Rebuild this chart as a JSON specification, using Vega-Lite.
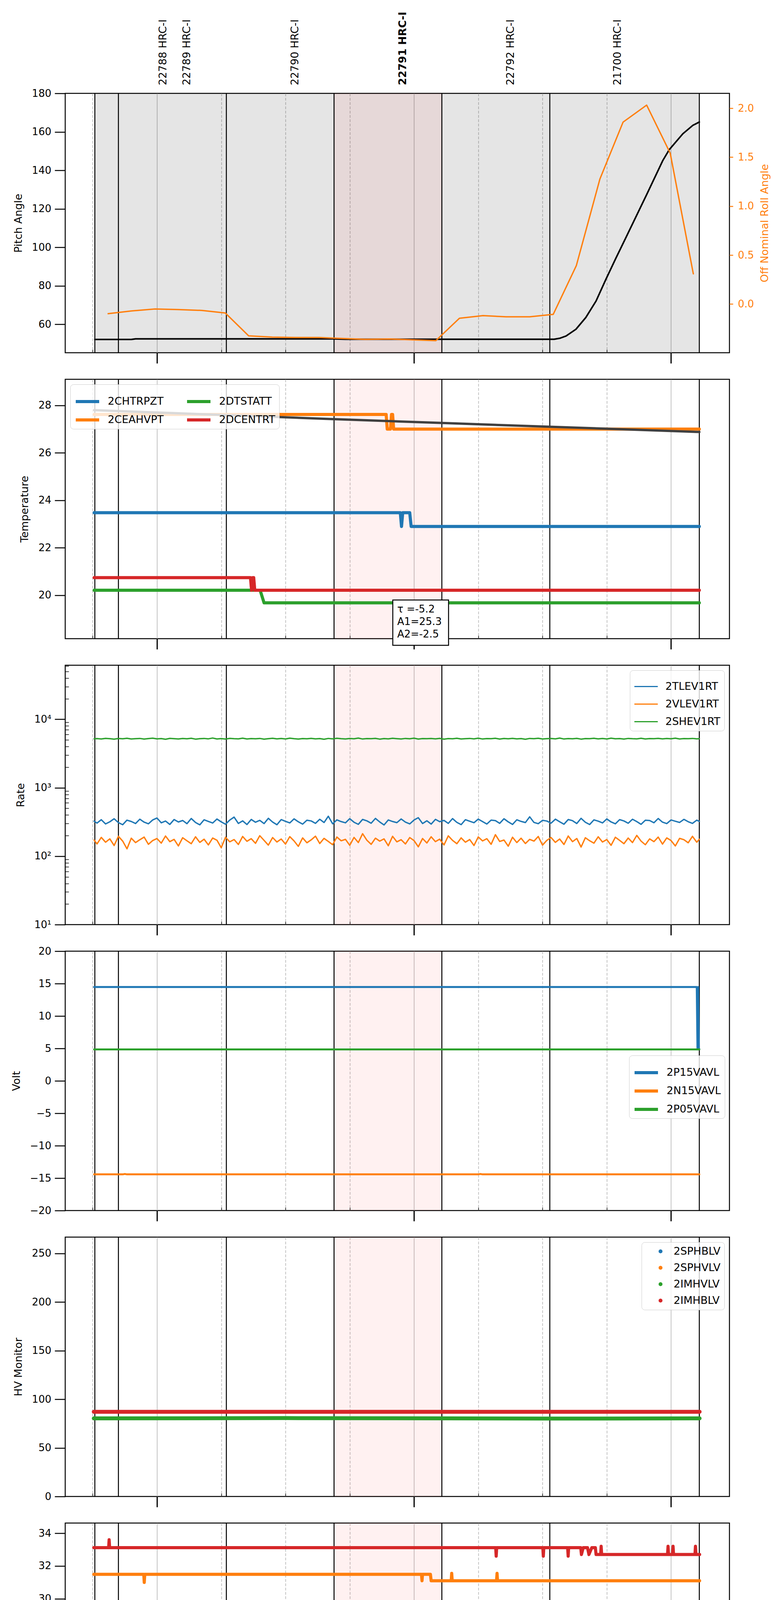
{
  "$schema": "https://vega.github.io/schema/vega-lite/v6.json",
  "background": "white",
  "padding": {"left": 26, "top": 28, "right": 10, "bottom": 10},
  "spacing": 68,
  "bounds": "flush",
  "resolve": {"scale": {"color": "independent"}, "legend": {"color": "independent"}},
  "config": {
    "font": "DejaVu Sans",
    "view": {"stroke": "black", "strokeWidth": 2.5},
    "axis": {"labelColor": "black", "titleColor": "black", "labelFont": "DejaVu Sans", "titleFont": "DejaVu Sans"},
    "axisY": {"tickSize": 27, "tickWidth": 2.5, "tickColor": "black", "labelFontSize": 26, "labelPadding": 9, "titleFontSize": 27, "titleFontWeight": "normal", "titlePadding": 20, "domain": false, "grid": false},
    "legend": {"labelFontSize": 27, "labelColor": "black", "fillColor": "rgba(255,255,255,0.8)", "strokeColor": "#cccccc", "cornerRadius": 8, "padding": 10, "rowPadding": -3, "symbolType": "stroke", "symbolSize": 3600, "symbolStrokeWidth": 8, "labelOffset": 18, "offset": 13, "labelLimit": 400},
    "line": {"strokeCap": "round", "strokeJoin": "round"}
  },
  "datasets": {
    "grey": [{"t": "2020-03-23T05:45:30Z", "t2": "2020-03-23T08:06:36Z"}],
    "pink": [{"t": "2020-03-23T06:41:20Z", "t2": "2020-03-23T07:06:30Z"}],
    "bounds": [
      {"t": "2020-03-23T05:45:30Z"}, {"t": "2020-03-23T05:51:00Z"}, {"t": "2020-03-23T06:16:12Z"},
      {"t": "2020-03-23T06:41:20Z"}, {"t": "2020-03-23T07:06:30Z"}, {"t": "2020-03-23T07:31:42Z"},
      {"t": "2020-03-23T08:06:36Z"}
    ],
    "obs": [
      {"t": "2020-03-23T06:01:30Z", "label": "22788 HRC-I"},
      {"t": "2020-03-23T06:07:00Z", "label": "22789 HRC-I"},
      {"t": "2020-03-23T06:32:18Z", "label": "22790 HRC-I"},
      {"t": "2020-03-23T06:57:24Z", "label": "22791 HRC-I", "cur": true},
      {"t": "2020-03-23T07:22:36Z", "label": "22792 HRC-I"},
      {"t": "2020-03-23T07:47:36Z", "label": "21700 HRC-I"}
    ],
    "fit": [
      {"t": "2020-03-23T06:55:03Z", "t2": "2020-03-23T07:08:04Z", "tx": "2020-03-23T06:56:05Z", "note": ["τ =-5.2", "A1=25.3", "A2=-2.5"]}
    ],
    "pitch": [
      {"t": "2020-03-23T05:45:30Z", "v": 52.1}, {"t": "2020-03-23T05:54:00Z", "v": 52.1},
      {"t": "2020-03-23T05:55:00Z", "v": 52.4}, {"t": "2020-03-23T06:41:00Z", "v": 52.4},
      {"t": "2020-03-23T06:44:00Z", "v": 52.2}, {"t": "2020-03-23T07:32:42Z", "v": 52.2},
      {"t": "2020-03-23T07:34:00Z", "v": 52.7}, {"t": "2020-03-23T07:35:30Z", "v": 53.9},
      {"t": "2020-03-23T07:37:48Z", "v": 57.4}, {"t": "2020-03-23T07:40:06Z", "v": 63.5},
      {"t": "2020-03-23T07:42:30Z", "v": 72.1}, {"t": "2020-03-23T07:44:48Z", "v": 83.4},
      {"t": "2020-03-23T07:47:07Z", "v": 94.3}, {"t": "2020-03-23T07:49:30Z", "v": 105.2},
      {"t": "2020-03-23T07:54:12Z", "v": 126.9}, {"t": "2020-03-23T07:58:06Z", "v": 145.2},
      {"t": "2020-03-23T07:59:36Z", "v": 150.8}, {"t": "2020-03-23T08:02:45Z", "v": 159.0},
      {"t": "2020-03-23T08:05:06Z", "v": 163.4}, {"t": "2020-03-23T08:06:36Z", "v": 165.1}
    ],
    "roll": [
      {"t": "2020-03-23T05:48:36Z", "v": -0.098}, {"t": "2020-03-23T05:54:04Z", "v": -0.070},
      {"t": "2020-03-23T05:59:32Z", "v": -0.050}, {"t": "2020-03-23T06:05:00Z", "v": -0.056},
      {"t": "2020-03-23T06:10:30Z", "v": -0.065}, {"t": "2020-03-23T06:15:57Z", "v": -0.091},
      {"t": "2020-03-23T06:21:24Z", "v": -0.324}, {"t": "2020-03-23T06:26:54Z", "v": -0.337},
      {"t": "2020-03-23T06:32:18Z", "v": -0.341}, {"t": "2020-03-23T06:37:48Z", "v": -0.341},
      {"t": "2020-03-23T06:43:18Z", "v": -0.351}, {"t": "2020-03-23T06:48:42Z", "v": -0.360},
      {"t": "2020-03-23T06:54:12Z", "v": -0.356}, {"t": "2020-03-23T06:59:42Z", "v": -0.365},
      {"t": "2020-03-23T07:05:06Z", "v": -0.373}, {"t": "2020-03-23T07:10:36Z", "v": -0.145},
      {"t": "2020-03-23T07:16:06Z", "v": -0.118}, {"t": "2020-03-23T07:21:30Z", "v": -0.130},
      {"t": "2020-03-23T07:27:00Z", "v": -0.130}, {"t": "2020-03-23T07:32:30Z", "v": -0.105},
      {"t": "2020-03-23T07:37:54Z", "v": 0.394}, {"t": "2020-03-23T07:43:24Z", "v": 1.278},
      {"t": "2020-03-23T07:48:48Z", "v": 1.858}, {"t": "2020-03-23T07:54:18Z", "v": 2.032},
      {"t": "2020-03-23T07:59:48Z", "v": 1.542}, {"t": "2020-03-23T08:05:12Z", "v": 0.309}
    ],
    "model": [
      {"t": "2020-03-23T05:45:20Z", "v": 27.80}, {"t": "2020-03-23T06:15:00Z", "v": 27.60},
      {"t": "2020-03-23T06:41:20Z", "v": 27.42}, {"t": "2020-03-23T07:06:30Z", "v": 27.26},
      {"t": "2020-03-23T07:31:42Z", "v": 27.10}, {"t": "2020-03-23T08:06:36Z", "v": 26.88}
    ],
    "temp": [
      {"t": "2020-03-23T05:45:20Z", "ch": "2CHTRPZT", "v": 23.48}, {"t": "2020-03-23T06:56:48Z", "ch": "2CHTRPZT", "v": 23.48},
      {"t": "2020-03-23T06:57:05Z", "ch": "2CHTRPZT", "v": 22.9}, {"t": "2020-03-23T06:57:22Z", "ch": "2CHTRPZT", "v": 23.48},
      {"t": "2020-03-23T06:59:00Z", "ch": "2CHTRPZT", "v": 23.48}, {"t": "2020-03-23T06:59:20Z", "ch": "2CHTRPZT", "v": 22.9},
      {"t": "2020-03-23T08:06:36Z", "ch": "2CHTRPZT", "v": 22.9},
      {"t": "2020-03-23T05:45:20Z", "ch": "2CEAHVPT", "v": 27.62}, {"t": "2020-03-23T06:53:30Z", "ch": "2CEAHVPT", "v": 27.62},
      {"t": "2020-03-23T06:53:45Z", "ch": "2CEAHVPT", "v": 27.0}, {"t": "2020-03-23T06:54:30Z", "ch": "2CEAHVPT", "v": 27.0},
      {"t": "2020-03-23T06:54:45Z", "ch": "2CEAHVPT", "v": 27.62}, {"t": "2020-03-23T06:55:00Z", "ch": "2CEAHVPT", "v": 27.62},
      {"t": "2020-03-23T06:55:15Z", "ch": "2CEAHVPT", "v": 27.0}, {"t": "2020-03-23T08:06:36Z", "ch": "2CEAHVPT", "v": 27.0},
      {"t": "2020-03-23T05:45:20Z", "ch": "2DTSTATT", "v": 20.21}, {"t": "2020-03-23T06:24:05Z", "ch": "2DTSTATT", "v": 20.21},
      {"t": "2020-03-23T06:25:00Z", "ch": "2DTSTATT", "v": 19.68}, {"t": "2020-03-23T08:06:36Z", "ch": "2DTSTATT", "v": 19.68},
      {"t": "2020-03-23T05:45:20Z", "ch": "2DCENTRT", "v": 20.74}, {"t": "2020-03-23T06:21:50Z", "ch": "2DCENTRT", "v": 20.74},
      {"t": "2020-03-23T06:22:05Z", "ch": "2DCENTRT", "v": 20.21}, {"t": "2020-03-23T06:22:20Z", "ch": "2DCENTRT", "v": 20.74},
      {"t": "2020-03-23T06:22:35Z", "ch": "2DCENTRT", "v": 20.74}, {"t": "2020-03-23T06:22:50Z", "ch": "2DCENTRT", "v": 20.21},
      {"t": "2020-03-23T08:06:36Z", "ch": "2DCENTRT", "v": 20.21}
    ],
    "rate": [
      {"t": "2020-03-23T05:45:20Z", "2TLEV1RT": 325, "2VLEV1RT": 172, "2SHEV1RT": 5180},
      {"t": "2020-03-23T05:46:00Z", "2TLEV1RT": 304, "2VLEV1RT": 151, "2SHEV1RT": 5230},
      {"t": "2020-03-23T05:47:00Z", "2TLEV1RT": 341, "2VLEV1RT": 188, "2SHEV1RT": 5150},
      {"t": "2020-03-23T05:48:00Z", "2TLEV1RT": 296, "2VLEV1RT": 160, "2SHEV1RT": 5260},
      {"t": "2020-03-23T05:49:00Z", "2TLEV1RT": 318, "2VLEV1RT": 179, "2SHEV1RT": 5200},
      {"t": "2020-03-23T05:50:00Z", "2TLEV1RT": 352, "2VLEV1RT": 143, "2SHEV1RT": 5120},
      {"t": "2020-03-23T05:51:00Z", "2TLEV1RT": 309, "2VLEV1RT": 195, "2SHEV1RT": 5240},
      {"t": "2020-03-23T05:52:00Z", "2TLEV1RT": 288, "2VLEV1RT": 166, "2SHEV1RT": 5190},
      {"t": "2020-03-23T05:53:00Z", "2TLEV1RT": 336, "2VLEV1RT": 128, "2SHEV1RT": 5280},
      {"t": "2020-03-23T05:54:00Z", "2TLEV1RT": 321, "2VLEV1RT": 183, "2SHEV1RT": 5160},
      {"t": "2020-03-23T05:55:00Z", "2TLEV1RT": 300, "2VLEV1RT": 158, "2SHEV1RT": 5210},
      {"t": "2020-03-23T05:56:00Z", "2TLEV1RT": 347, "2VLEV1RT": 174, "2SHEV1RT": 5250},
      {"t": "2020-03-23T05:57:00Z", "2TLEV1RT": 314, "2VLEV1RT": 190, "2SHEV1RT": 5140},
      {"t": "2020-03-23T05:58:00Z", "2TLEV1RT": 297, "2VLEV1RT": 149, "2SHEV1RT": 5220},
      {"t": "2020-03-23T05:59:00Z", "2TLEV1RT": 338, "2VLEV1RT": 169, "2SHEV1RT": 5300},
      {"t": "2020-03-23T06:00:00Z", "2TLEV1RT": 361, "2VLEV1RT": 181, "2SHEV1RT": 5170},
      {"t": "2020-03-23T06:01:00Z", "2TLEV1RT": 307, "2VLEV1RT": 155, "2SHEV1RT": 5230},
      {"t": "2020-03-23T06:02:00Z", "2TLEV1RT": 326, "2VLEV1RT": 197, "2SHEV1RT": 5110},
      {"t": "2020-03-23T06:03:00Z", "2TLEV1RT": 291, "2VLEV1RT": 163, "2SHEV1RT": 5260},
      {"t": "2020-03-23T06:04:00Z", "2TLEV1RT": 343, "2VLEV1RT": 176, "2SHEV1RT": 5200},
      {"t": "2020-03-23T06:05:00Z", "2TLEV1RT": 316, "2VLEV1RT": 141, "2SHEV1RT": 5150},
      {"t": "2020-03-23T06:06:00Z", "2TLEV1RT": 332, "2VLEV1RT": 186, "2SHEV1RT": 5240},
      {"t": "2020-03-23T06:07:00Z", "2TLEV1RT": 298, "2VLEV1RT": 168, "2SHEV1RT": 5190},
      {"t": "2020-03-23T06:08:00Z", "2TLEV1RT": 355, "2VLEV1RT": 152, "2SHEV1RT": 5270},
      {"t": "2020-03-23T06:09:00Z", "2TLEV1RT": 311, "2VLEV1RT": 192, "2SHEV1RT": 5130},
      {"t": "2020-03-23T06:10:00Z", "2TLEV1RT": 287, "2VLEV1RT": 159, "2SHEV1RT": 5210},
      {"t": "2020-03-23T06:11:00Z", "2TLEV1RT": 340, "2VLEV1RT": 177, "2SHEV1RT": 5250},
      {"t": "2020-03-23T06:12:00Z", "2TLEV1RT": 322, "2VLEV1RT": 146, "2SHEV1RT": 5180},
      {"t": "2020-03-23T06:13:00Z", "2TLEV1RT": 305, "2VLEV1RT": 184, "2SHEV1RT": 5320},
      {"t": "2020-03-23T06:14:00Z", "2TLEV1RT": 349, "2VLEV1RT": 171, "2SHEV1RT": 5160},
      {"t": "2020-03-23T06:15:00Z", "2TLEV1RT": 317, "2VLEV1RT": 133, "2SHEV1RT": 5220},
      {"t": "2020-03-23T06:16:00Z", "2TLEV1RT": 293, "2VLEV1RT": 189, "2SHEV1RT": 5140},
      {"t": "2020-03-23T06:17:00Z", "2TLEV1RT": 337, "2VLEV1RT": 162, "2SHEV1RT": 5260},
      {"t": "2020-03-23T06:18:00Z", "2TLEV1RT": 372, "2VLEV1RT": 175, "2SHEV1RT": 5200},
      {"t": "2020-03-23T06:19:00Z", "2TLEV1RT": 301, "2VLEV1RT": 148, "2SHEV1RT": 5170},
      {"t": "2020-03-23T06:20:00Z", "2TLEV1RT": 328, "2VLEV1RT": 194, "2SHEV1RT": 5290},
      {"t": "2020-03-23T06:21:00Z", "2TLEV1RT": 290, "2VLEV1RT": 165, "2SHEV1RT": 5150},
      {"t": "2020-03-23T06:22:00Z", "2TLEV1RT": 344, "2VLEV1RT": 180, "2SHEV1RT": 5230},
      {"t": "2020-03-23T06:23:00Z", "2TLEV1RT": 313, "2VLEV1RT": 154, "2SHEV1RT": 5190},
      {"t": "2020-03-23T06:24:00Z", "2TLEV1RT": 334, "2VLEV1RT": 199, "2SHEV1RT": 5250},
      {"t": "2020-03-23T06:25:00Z", "2TLEV1RT": 299, "2VLEV1RT": 170, "2SHEV1RT": 5120},
      {"t": "2020-03-23T06:26:00Z", "2TLEV1RT": 357, "2VLEV1RT": 145, "2SHEV1RT": 5210},
      {"t": "2020-03-23T06:27:00Z", "2TLEV1RT": 315, "2VLEV1RT": 187, "2SHEV1RT": 5270},
      {"t": "2020-03-23T06:28:00Z", "2TLEV1RT": 288, "2VLEV1RT": 161, "2SHEV1RT": 5180},
      {"t": "2020-03-23T06:29:00Z", "2TLEV1RT": 342, "2VLEV1RT": 178, "2SHEV1RT": 5240},
      {"t": "2020-03-23T06:30:00Z", "2TLEV1RT": 323, "2VLEV1RT": 150, "2SHEV1RT": 5160},
      {"t": "2020-03-23T06:31:00Z", "2TLEV1RT": 306, "2VLEV1RT": 193, "2SHEV1RT": 5300},
      {"t": "2020-03-23T06:32:00Z", "2TLEV1RT": 351, "2VLEV1RT": 167, "2SHEV1RT": 5200},
      {"t": "2020-03-23T06:33:00Z", "2TLEV1RT": 318, "2VLEV1RT": 139, "2SHEV1RT": 5140},
      {"t": "2020-03-23T06:34:00Z", "2TLEV1RT": 294, "2VLEV1RT": 185, "2SHEV1RT": 5230},
      {"t": "2020-03-23T06:35:00Z", "2TLEV1RT": 335, "2VLEV1RT": 157, "2SHEV1RT": 5190},
      {"t": "2020-03-23T06:36:00Z", "2TLEV1RT": 327, "2VLEV1RT": 173, "2SHEV1RT": 5260},
      {"t": "2020-03-23T06:37:00Z", "2TLEV1RT": 302, "2VLEV1RT": 196, "2SHEV1RT": 5170},
      {"t": "2020-03-23T06:38:00Z", "2TLEV1RT": 346, "2VLEV1RT": 153, "2SHEV1RT": 5220},
      {"t": "2020-03-23T06:39:00Z", "2TLEV1RT": 310, "2VLEV1RT": 182, "2SHEV1RT": 5100},
      {"t": "2020-03-23T06:40:00Z", "2TLEV1RT": 383, "2VLEV1RT": 164, "2SHEV1RT": 5250},
      {"t": "2020-03-23T06:41:00Z", "2TLEV1RT": 297, "2VLEV1RT": 147, "2SHEV1RT": 5180},
      {"t": "2020-03-23T06:42:00Z", "2TLEV1RT": 339, "2VLEV1RT": 190, "2SHEV1RT": 5280},
      {"t": "2020-03-23T06:43:00Z", "2TLEV1RT": 320, "2VLEV1RT": 168, "2SHEV1RT": 5210},
      {"t": "2020-03-23T06:44:00Z", "2TLEV1RT": 307, "2VLEV1RT": 176, "2SHEV1RT": 5160},
      {"t": "2020-03-23T06:45:00Z", "2TLEV1RT": 353, "2VLEV1RT": 144, "2SHEV1RT": 5240},
      {"t": "2020-03-23T06:46:00Z", "2TLEV1RT": 313, "2VLEV1RT": 188, "2SHEV1RT": 5190},
      {"t": "2020-03-23T06:47:00Z", "2TLEV1RT": 292, "2VLEV1RT": 158, "2SHEV1RT": 5310},
      {"t": "2020-03-23T06:48:00Z", "2TLEV1RT": 344, "2VLEV1RT": 213, "2SHEV1RT": 5150},
      {"t": "2020-03-23T06:49:00Z", "2TLEV1RT": 328, "2VLEV1RT": 171, "2SHEV1RT": 5220},
      {"t": "2020-03-23T06:50:00Z", "2TLEV1RT": 303, "2VLEV1RT": 149, "2SHEV1RT": 5200},
      {"t": "2020-03-23T06:51:00Z", "2TLEV1RT": 356, "2VLEV1RT": 183, "2SHEV1RT": 5260},
      {"t": "2020-03-23T06:52:00Z", "2TLEV1RT": 316, "2VLEV1RT": 166, "2SHEV1RT": 5130},
      {"t": "2020-03-23T06:53:00Z", "2TLEV1RT": 286, "2VLEV1RT": 179, "2SHEV1RT": 5230},
      {"t": "2020-03-23T06:54:00Z", "2TLEV1RT": 338, "2VLEV1RT": 142, "2SHEV1RT": 5180},
      {"t": "2020-03-23T06:55:00Z", "2TLEV1RT": 321, "2VLEV1RT": 195, "2SHEV1RT": 5270},
      {"t": "2020-03-23T06:56:00Z", "2TLEV1RT": 309, "2VLEV1RT": 162, "2SHEV1RT": 5210},
      {"t": "2020-03-23T06:57:00Z", "2TLEV1RT": 349, "2VLEV1RT": 174, "2SHEV1RT": 5160},
      {"t": "2020-03-23T06:58:00Z", "2TLEV1RT": 314, "2VLEV1RT": 151, "2SHEV1RT": 5250},
      {"t": "2020-03-23T06:59:00Z", "2TLEV1RT": 296, "2VLEV1RT": 187, "2SHEV1RT": 5190},
      {"t": "2020-03-23T07:00:00Z", "2TLEV1RT": 337, "2VLEV1RT": 169, "2SHEV1RT": 5290},
      {"t": "2020-03-23T07:01:00Z", "2TLEV1RT": 365, "2VLEV1RT": 137, "2SHEV1RT": 5140},
      {"t": "2020-03-23T07:02:00Z", "2TLEV1RT": 300, "2VLEV1RT": 181, "2SHEV1RT": 5220},
      {"t": "2020-03-23T07:03:00Z", "2TLEV1RT": 329, "2VLEV1RT": 156, "2SHEV1RT": 5200},
      {"t": "2020-03-23T07:04:00Z", "2TLEV1RT": 294, "2VLEV1RT": 192, "2SHEV1RT": 5240},
      {"t": "2020-03-23T07:05:00Z", "2TLEV1RT": 345, "2VLEV1RT": 163, "2SHEV1RT": 5170},
      {"t": "2020-03-23T07:06:00Z", "2TLEV1RT": 319, "2VLEV1RT": 177, "2SHEV1RT": 5260},
      {"t": "2020-03-23T07:07:00Z", "2TLEV1RT": 333, "2VLEV1RT": 146, "2SHEV1RT": 5120},
      {"t": "2020-03-23T07:08:00Z", "2TLEV1RT": 301, "2VLEV1RT": 198, "2SHEV1RT": 5230},
      {"t": "2020-03-23T07:09:00Z", "2TLEV1RT": 354, "2VLEV1RT": 170, "2SHEV1RT": 5190},
      {"t": "2020-03-23T07:10:00Z", "2TLEV1RT": 312, "2VLEV1RT": 152, "2SHEV1RT": 5280},
      {"t": "2020-03-23T07:11:00Z", "2TLEV1RT": 289, "2VLEV1RT": 185, "2SHEV1RT": 5160},
      {"t": "2020-03-23T07:12:00Z", "2TLEV1RT": 341, "2VLEV1RT": 160, "2SHEV1RT": 5210},
      {"t": "2020-03-23T07:13:00Z", "2TLEV1RT": 324, "2VLEV1RT": 175, "2SHEV1RT": 5250},
      {"t": "2020-03-23T07:14:00Z", "2TLEV1RT": 308, "2VLEV1RT": 143, "2SHEV1RT": 5180},
      {"t": "2020-03-23T07:15:00Z", "2TLEV1RT": 348, "2VLEV1RT": 191, "2SHEV1RT": 5300},
      {"t": "2020-03-23T07:16:00Z", "2TLEV1RT": 320, "2VLEV1RT": 167, "2SHEV1RT": 5150},
      {"t": "2020-03-23T07:17:00Z", "2TLEV1RT": 295, "2VLEV1RT": 180, "2SHEV1RT": 5220},
      {"t": "2020-03-23T07:18:00Z", "2TLEV1RT": 336, "2VLEV1RT": 149, "2SHEV1RT": 5200},
      {"t": "2020-03-23T07:19:00Z", "2TLEV1RT": 331, "2VLEV1RT": 206, "2SHEV1RT": 5270},
      {"t": "2020-03-23T07:20:00Z", "2TLEV1RT": 302, "2VLEV1RT": 164, "2SHEV1RT": 5140},
      {"t": "2020-03-23T07:21:00Z", "2TLEV1RT": 352, "2VLEV1RT": 172, "2SHEV1RT": 5240},
      {"t": "2020-03-23T07:22:00Z", "2TLEV1RT": 317, "2VLEV1RT": 140, "2SHEV1RT": 5190},
      {"t": "2020-03-23T07:23:00Z", "2TLEV1RT": 291, "2VLEV1RT": 189, "2SHEV1RT": 5260},
      {"t": "2020-03-23T07:24:00Z", "2TLEV1RT": 340, "2VLEV1RT": 158, "2SHEV1RT": 5170},
      {"t": "2020-03-23T07:25:00Z", "2TLEV1RT": 322, "2VLEV1RT": 183, "2SHEV1RT": 5230},
      {"t": "2020-03-23T07:26:00Z", "2TLEV1RT": 310, "2VLEV1RT": 153, "2SHEV1RT": 5110},
      {"t": "2020-03-23T07:27:00Z", "2TLEV1RT": 376, "2VLEV1RT": 176, "2SHEV1RT": 5250},
      {"t": "2020-03-23T07:28:00Z", "2TLEV1RT": 311, "2VLEV1RT": 166, "2SHEV1RT": 5200},
      {"t": "2020-03-23T07:29:00Z", "2TLEV1RT": 298, "2VLEV1RT": 194, "2SHEV1RT": 5280},
      {"t": "2020-03-23T07:30:00Z", "2TLEV1RT": 334, "2VLEV1RT": 145, "2SHEV1RT": 5160},
      {"t": "2020-03-23T07:31:00Z", "2TLEV1RT": 326, "2VLEV1RT": 170, "2SHEV1RT": 5210},
      {"t": "2020-03-23T07:32:00Z", "2TLEV1RT": 304, "2VLEV1RT": 187, "2SHEV1RT": 5240},
      {"t": "2020-03-23T07:33:00Z", "2TLEV1RT": 347, "2VLEV1RT": 159, "2SHEV1RT": 5180},
      {"t": "2020-03-23T07:34:00Z", "2TLEV1RT": 318, "2VLEV1RT": 178, "2SHEV1RT": 5310},
      {"t": "2020-03-23T07:35:00Z", "2TLEV1RT": 293, "2VLEV1RT": 148, "2SHEV1RT": 5150},
      {"t": "2020-03-23T07:36:00Z", "2TLEV1RT": 343, "2VLEV1RT": 197, "2SHEV1RT": 5220},
      {"t": "2020-03-23T07:37:00Z", "2TLEV1RT": 330, "2VLEV1RT": 163, "2SHEV1RT": 5190},
      {"t": "2020-03-23T07:38:00Z", "2TLEV1RT": 300, "2VLEV1RT": 181, "2SHEV1RT": 5260},
      {"t": "2020-03-23T07:39:00Z", "2TLEV1RT": 357, "2VLEV1RT": 136, "2SHEV1RT": 5130},
      {"t": "2020-03-23T07:40:00Z", "2TLEV1RT": 313, "2VLEV1RT": 186, "2SHEV1RT": 5230},
      {"t": "2020-03-23T07:41:00Z", "2TLEV1RT": 290, "2VLEV1RT": 168, "2SHEV1RT": 5200},
      {"t": "2020-03-23T07:42:00Z", "2TLEV1RT": 339, "2VLEV1RT": 155, "2SHEV1RT": 5270},
      {"t": "2020-03-23T07:43:00Z", "2TLEV1RT": 325, "2VLEV1RT": 192, "2SHEV1RT": 5170},
      {"t": "2020-03-23T07:44:00Z", "2TLEV1RT": 306, "2VLEV1RT": 161, "2SHEV1RT": 5240},
      {"t": "2020-03-23T07:45:00Z", "2TLEV1RT": 350, "2VLEV1RT": 175, "2SHEV1RT": 5160},
      {"t": "2020-03-23T07:46:00Z", "2TLEV1RT": 316, "2VLEV1RT": 144, "2SHEV1RT": 5290},
      {"t": "2020-03-23T07:47:00Z", "2TLEV1RT": 297, "2VLEV1RT": 189, "2SHEV1RT": 5190},
      {"t": "2020-03-23T07:48:00Z", "2TLEV1RT": 342, "2VLEV1RT": 170, "2SHEV1RT": 5220},
      {"t": "2020-03-23T07:49:00Z", "2TLEV1RT": 327, "2VLEV1RT": 152, "2SHEV1RT": 5140},
      {"t": "2020-03-23T07:50:00Z", "2TLEV1RT": 303, "2VLEV1RT": 184, "2SHEV1RT": 5250},
      {"t": "2020-03-23T07:51:00Z", "2TLEV1RT": 346, "2VLEV1RT": 158, "2SHEV1RT": 5200},
      {"t": "2020-03-23T07:52:00Z", "2TLEV1RT": 320, "2VLEV1RT": 201, "2SHEV1RT": 5180},
      {"t": "2020-03-23T07:53:00Z", "2TLEV1RT": 292, "2VLEV1RT": 166, "2SHEV1RT": 5270},
      {"t": "2020-03-23T07:54:00Z", "2TLEV1RT": 335, "2VLEV1RT": 147, "2SHEV1RT": 5150},
      {"t": "2020-03-23T07:55:00Z", "2TLEV1RT": 332, "2VLEV1RT": 179, "2SHEV1RT": 5230},
      {"t": "2020-03-23T07:56:00Z", "2TLEV1RT": 308, "2VLEV1RT": 163, "2SHEV1RT": 5210},
      {"t": "2020-03-23T07:57:00Z", "2TLEV1RT": 355, "2VLEV1RT": 190, "2SHEV1RT": 5260},
      {"t": "2020-03-23T07:58:00Z", "2TLEV1RT": 314, "2VLEV1RT": 150, "2SHEV1RT": 5170},
      {"t": "2020-03-23T07:59:00Z", "2TLEV1RT": 299, "2VLEV1RT": 185, "2SHEV1RT": 5240},
      {"t": "2020-03-23T08:00:00Z", "2TLEV1RT": 338, "2VLEV1RT": 169, "2SHEV1RT": 5190},
      {"t": "2020-03-23T08:01:00Z", "2TLEV1RT": 324, "2VLEV1RT": 141, "2SHEV1RT": 5300},
      {"t": "2020-03-23T08:02:00Z", "2TLEV1RT": 311, "2VLEV1RT": 182, "2SHEV1RT": 5160},
      {"t": "2020-03-23T08:03:00Z", "2TLEV1RT": 345, "2VLEV1RT": 174, "2SHEV1RT": 5220},
      {"t": "2020-03-23T08:04:00Z", "2TLEV1RT": 319, "2VLEV1RT": 157, "2SHEV1RT": 5200},
      {"t": "2020-03-23T08:05:00Z", "2TLEV1RT": 301, "2VLEV1RT": 195, "2SHEV1RT": 5250},
      {"t": "2020-03-23T08:06:00Z", "2TLEV1RT": 336, "2VLEV1RT": 160, "2SHEV1RT": 5180},
      {"t": "2020-03-23T08:06:36Z", "2TLEV1RT": 322, "2VLEV1RT": 177, "2SHEV1RT": 5210}
    ],
    "volt": [
      {"t": "2020-03-23T05:45:20Z", "ch": "2P15VAVL", "v": 14.48}, {"t": "2020-03-23T08:06:00Z", "ch": "2P15VAVL", "v": 14.48},
      {"t": "2020-03-23T08:06:10Z", "ch": "2P15VAVL", "v": 4.9}, {"t": "2020-03-23T08:06:20Z", "ch": "2P15VAVL", "v": 14.48},
      {"t": "2020-03-23T08:06:30Z", "ch": "2P15VAVL", "v": 4.9}, {"t": "2020-03-23T08:06:36Z", "ch": "2P15VAVL", "v": 4.9},
      {"t": "2020-03-23T05:45:20Z", "ch": "2N15VAVL", "v": -14.42}, {"t": "2020-03-23T05:52:00Z", "ch": "2N15VAVL", "v": -14.42},
      {"t": "2020-03-23T05:52:30Z", "ch": "2N15VAVL", "v": -14.36}, {"t": "2020-03-23T05:53:00Z", "ch": "2N15VAVL", "v": -14.42},
      {"t": "2020-03-23T06:30:00Z", "ch": "2N15VAVL", "v": -14.42}, {"t": "2020-03-23T06:30:30Z", "ch": "2N15VAVL", "v": -14.37},
      {"t": "2020-03-23T06:31:00Z", "ch": "2N15VAVL", "v": -14.42}, {"t": "2020-03-23T07:15:00Z", "ch": "2N15VAVL", "v": -14.42},
      {"t": "2020-03-23T07:15:30Z", "ch": "2N15VAVL", "v": -14.36}, {"t": "2020-03-23T07:16:00Z", "ch": "2N15VAVL", "v": -14.42},
      {"t": "2020-03-23T08:06:36Z", "ch": "2N15VAVL", "v": -14.42},
      {"t": "2020-03-23T05:45:20Z", "ch": "2P05VAVL", "v": 4.85}, {"t": "2020-03-23T08:06:36Z", "ch": "2P05VAVL", "v": 4.85}
    ],
    "hv": [
      {"t": "2020-03-23T05:45:15Z", "ch": "2IMHVLV", "v": 80.3}, {"t": "2020-03-23T06:30:00Z", "ch": "2IMHVLV", "v": 80.6},
      {"t": "2020-03-23T07:30:00Z", "ch": "2IMHVLV", "v": 80.1}, {"t": "2020-03-23T08:06:40Z", "ch": "2IMHVLV", "v": 80.3},
      {"t": "2020-03-23T05:45:15Z", "ch": "2IMHBLV", "v": 87.1}, {"t": "2020-03-23T08:06:40Z", "ch": "2IMHBLV", "v": 87.1}
    ],
    "det": [
      {"t": "2020-03-23T05:45:15Z", "ch": "2SPINATM", "v": 20.98}, {"t": "2020-03-23T08:06:40Z", "ch": "2SPINATM", "v": 20.98},
      {"t": "2020-03-23T05:45:15Z", "ch": "2SPHVATM", "v": 31.49}, {"t": "2020-03-23T05:56:55Z", "ch": "2SPHVATM", "v": 31.49},
      {"t": "2020-03-23T05:57:02Z", "ch": "2SPHVATM", "v": 31.0}, {"t": "2020-03-23T05:57:09Z", "ch": "2SPHVATM", "v": 31.49},
      {"t": "2020-03-23T07:01:45Z", "ch": "2SPHVATM", "v": 31.49}, {"t": "2020-03-23T07:01:52Z", "ch": "2SPHVATM", "v": 31.10},
      {"t": "2020-03-23T07:01:59Z", "ch": "2SPHVATM", "v": 31.49}, {"t": "2020-03-23T07:03:50Z", "ch": "2SPHVATM", "v": 31.49},
      {"t": "2020-03-23T07:04:00Z", "ch": "2SPHVATM", "v": 31.10}, {"t": "2020-03-23T07:08:41Z", "ch": "2SPHVATM", "v": 31.10},
      {"t": "2020-03-23T07:08:48Z", "ch": "2SPHVATM", "v": 31.55}, {"t": "2020-03-23T07:08:55Z", "ch": "2SPHVATM", "v": 31.10},
      {"t": "2020-03-23T07:19:16Z", "ch": "2SPHVATM", "v": 31.10}, {"t": "2020-03-23T07:19:23Z", "ch": "2SPHVATM", "v": 31.55},
      {"t": "2020-03-23T07:19:30Z", "ch": "2SPHVATM", "v": 31.10}, {"t": "2020-03-23T08:06:40Z", "ch": "2SPHVATM", "v": 31.10},
      {"t": "2020-03-23T05:45:15Z", "ch": "2IMINATM", "v": 20.98}, {"t": "2020-03-23T07:20:53Z", "ch": "2IMINATM", "v": 20.98},
      {"t": "2020-03-23T07:21:00Z", "ch": "2IMINATM", "v": 20.29}, {"t": "2020-03-23T07:21:07Z", "ch": "2IMINATM", "v": 20.98},
      {"t": "2020-03-23T07:22:10Z", "ch": "2IMINATM", "v": 20.98}, {"t": "2020-03-23T07:22:17Z", "ch": "2IMINATM", "v": 20.29},
      {"t": "2020-03-23T07:22:24Z", "ch": "2IMINATM", "v": 20.98}, {"t": "2020-03-23T07:23:24Z", "ch": "2IMINATM", "v": 20.98},
      {"t": "2020-03-23T07:23:30Z", "ch": "2IMINATM", "v": 20.29}, {"t": "2020-03-23T07:23:36Z", "ch": "2IMINATM", "v": 20.98},
      {"t": "2020-03-23T07:25:50Z", "ch": "2IMINATM", "v": 20.98}, {"t": "2020-03-23T07:26:00Z", "ch": "2IMINATM", "v": 20.29},
      {"t": "2020-03-23T08:06:40Z", "ch": "2IMINATM", "v": 20.29},
      {"t": "2020-03-23T05:45:15Z", "ch": "2IMHVATM", "v": 33.12}, {"t": "2020-03-23T05:48:43Z", "ch": "2IMHVATM", "v": 33.12},
      {"t": "2020-03-23T05:48:50Z", "ch": "2IMHVATM", "v": 33.6}, {"t": "2020-03-23T05:48:57Z", "ch": "2IMHVATM", "v": 33.12},
      {"t": "2020-03-23T07:19:04Z", "ch": "2IMHVATM", "v": 33.12}, {"t": "2020-03-23T07:19:11Z", "ch": "2IMHVATM", "v": 32.6},
      {"t": "2020-03-23T07:19:18Z", "ch": "2IMHVATM", "v": 33.12}, {"t": "2020-03-23T07:30:04Z", "ch": "2IMHVATM", "v": 33.12},
      {"t": "2020-03-23T07:30:11Z", "ch": "2IMHVATM", "v": 32.6}, {"t": "2020-03-23T07:30:18Z", "ch": "2IMHVATM", "v": 33.12},
      {"t": "2020-03-23T07:35:52Z", "ch": "2IMHVATM", "v": 33.12}, {"t": "2020-03-23T07:35:59Z", "ch": "2IMHVATM", "v": 32.6},
      {"t": "2020-03-23T07:36:06Z", "ch": "2IMHVATM", "v": 33.12}, {"t": "2020-03-23T07:38:55Z", "ch": "2IMHVATM", "v": 33.12},
      {"t": "2020-03-23T07:39:05Z", "ch": "2IMHVATM", "v": 32.70}, {"t": "2020-03-23T07:39:30Z", "ch": "2IMHVATM", "v": 33.12},
      {"t": "2020-03-23T07:40:30Z", "ch": "2IMHVATM", "v": 33.12}, {"t": "2020-03-23T07:40:50Z", "ch": "2IMHVATM", "v": 32.70},
      {"t": "2020-03-23T07:41:30Z", "ch": "2IMHVATM", "v": 33.12}, {"t": "2020-03-23T07:42:20Z", "ch": "2IMHVATM", "v": 33.12},
      {"t": "2020-03-23T07:42:30Z", "ch": "2IMHVATM", "v": 32.70}, {"t": "2020-03-23T07:43:34Z", "ch": "2IMHVATM", "v": 32.70},
      {"t": "2020-03-23T07:43:41Z", "ch": "2IMHVATM", "v": 33.2}, {"t": "2020-03-23T07:43:48Z", "ch": "2IMHVATM", "v": 32.70},
      {"t": "2020-03-23T07:59:11Z", "ch": "2IMHVATM", "v": 32.70}, {"t": "2020-03-23T07:59:18Z", "ch": "2IMHVATM", "v": 33.2},
      {"t": "2020-03-23T07:59:25Z", "ch": "2IMHVATM", "v": 32.70}, {"t": "2020-03-23T08:00:21Z", "ch": "2IMHVATM", "v": 32.70},
      {"t": "2020-03-23T08:00:28Z", "ch": "2IMHVATM", "v": 33.2}, {"t": "2020-03-23T08:00:35Z", "ch": "2IMHVATM", "v": 32.70},
      {"t": "2020-03-23T08:05:35Z", "ch": "2IMHVATM", "v": 32.70}, {"t": "2020-03-23T08:05:42Z", "ch": "2IMHVATM", "v": 33.2},
      {"t": "2020-03-23T08:05:49Z", "ch": "2IMHVATM", "v": 32.70}, {"t": "2020-03-23T08:06:40Z", "ch": "2IMHVATM", "v": 32.70}
    ],
    "fea": [
      {"t": "2020-03-23T05:45:15Z", "ch": "2FHTRMZT", "v": 20.72}, {"t": "2020-03-23T06:10:06Z", "ch": "2FHTRMZT", "v": 20.72},
      {"t": "2020-03-23T06:10:13Z", "ch": "2FHTRMZT", "v": 20.15}, {"t": "2020-03-23T06:10:20Z", "ch": "2FHTRMZT", "v": 20.72},
      {"t": "2020-03-23T06:49:53Z", "ch": "2FHTRMZT", "v": 20.72}, {"t": "2020-03-23T06:50:00Z", "ch": "2FHTRMZT", "v": 19.12},
      {"t": "2020-03-23T06:50:07Z", "ch": "2FHTRMZT", "v": 20.72}, {"t": "2020-03-23T06:57:25Z", "ch": "2FHTRMZT", "v": 20.72},
      {"t": "2020-03-23T06:57:35Z", "ch": "2FHTRMZT", "v": 20.19}, {"t": "2020-03-23T08:06:40Z", "ch": "2FHTRMZT", "v": 20.19},
      {"t": "2020-03-23T05:45:15Z", "ch": "2FRADPYT", "v": 15.70}, {"t": "2020-03-23T07:14:25Z", "ch": "2FRADPYT", "v": 15.70},
      {"t": "2020-03-23T07:14:35Z", "ch": "2FRADPYT", "v": 15.24}, {"t": "2020-03-23T07:59:40Z", "ch": "2FRADPYT", "v": 15.24},
      {"t": "2020-03-23T07:59:50Z", "ch": "2FRADPYT", "v": 15.70}, {"t": "2020-03-23T08:06:40Z", "ch": "2FRADPYT", "v": 15.70},
      {"t": "2020-03-23T05:45:15Z", "ch": "2FEPRATM", "v": 23.12}, {"t": "2020-03-23T08:06:40Z", "ch": "2FEPRATM", "v": 23.12},
      {"t": "2020-03-23T05:45:15Z", "ch": "2FE00ATM", "v": 20.77}, {"t": "2020-03-23T05:58:07Z", "ch": "2FE00ATM", "v": 20.77},
      {"t": "2020-03-23T05:58:14Z", "ch": "2FE00ATM", "v": 21.13}, {"t": "2020-03-23T05:58:21Z", "ch": "2FE00ATM", "v": 20.77},
      {"t": "2020-03-23T06:25:30Z", "ch": "2FE00ATM", "v": 20.77}, {"t": "2020-03-23T06:25:37Z", "ch": "2FE00ATM", "v": 21.13},
      {"t": "2020-03-23T06:25:44Z", "ch": "2FE00ATM", "v": 20.77}, {"t": "2020-03-23T06:34:42Z", "ch": "2FE00ATM", "v": 20.77},
      {"t": "2020-03-23T06:34:49Z", "ch": "2FE00ATM", "v": 20.44}, {"t": "2020-03-23T06:34:56Z", "ch": "2FE00ATM", "v": 20.77},
      {"t": "2020-03-23T06:35:54Z", "ch": "2FE00ATM", "v": 20.77}, {"t": "2020-03-23T06:36:01Z", "ch": "2FE00ATM", "v": 20.44},
      {"t": "2020-03-23T06:36:08Z", "ch": "2FE00ATM", "v": 20.77}, {"t": "2020-03-23T06:37:06Z", "ch": "2FE00ATM", "v": 20.77},
      {"t": "2020-03-23T06:37:13Z", "ch": "2FE00ATM", "v": 20.44}, {"t": "2020-03-23T06:37:20Z", "ch": "2FE00ATM", "v": 20.77},
      {"t": "2020-03-23T06:39:55Z", "ch": "2FE00ATM", "v": 20.77}, {"t": "2020-03-23T06:40:05Z", "ch": "2FE00ATM", "v": 20.47},
      {"t": "2020-03-23T06:41:00Z", "ch": "2FE00ATM", "v": 20.77}, {"t": "2020-03-23T06:42:00Z", "ch": "2FE00ATM", "v": 20.77},
      {"t": "2020-03-23T06:42:10Z", "ch": "2FE00ATM", "v": 20.47}, {"t": "2020-03-23T06:42:40Z", "ch": "2FE00ATM", "v": 20.77},
      {"t": "2020-03-23T06:43:20Z", "ch": "2FE00ATM", "v": 20.77}, {"t": "2020-03-23T06:43:30Z", "ch": "2FE00ATM", "v": 20.47},
      {"t": "2020-03-23T06:52:05Z", "ch": "2FE00ATM", "v": 20.47}, {"t": "2020-03-23T06:52:12Z", "ch": "2FE00ATM", "v": 20.12},
      {"t": "2020-03-23T06:52:19Z", "ch": "2FE00ATM", "v": 20.47}, {"t": "2020-03-23T07:00:41Z", "ch": "2FE00ATM", "v": 20.47},
      {"t": "2020-03-23T07:00:48Z", "ch": "2FE00ATM", "v": 19.83}, {"t": "2020-03-23T07:00:55Z", "ch": "2FE00ATM", "v": 20.47},
      {"t": "2020-03-23T07:07:23Z", "ch": "2FE00ATM", "v": 20.47}, {"t": "2020-03-23T07:07:30Z", "ch": "2FE00ATM", "v": 20.83},
      {"t": "2020-03-23T07:07:37Z", "ch": "2FE00ATM", "v": 20.47}, {"t": "2020-03-23T07:10:05Z", "ch": "2FE00ATM", "v": 20.47},
      {"t": "2020-03-23T07:10:12Z", "ch": "2FE00ATM", "v": 20.83}, {"t": "2020-03-23T07:10:19Z", "ch": "2FE00ATM", "v": 20.47},
      {"t": "2020-03-23T07:33:35Z", "ch": "2FE00ATM", "v": 20.47}, {"t": "2020-03-23T07:33:42Z", "ch": "2FE00ATM", "v": 20.12},
      {"t": "2020-03-23T07:33:49Z", "ch": "2FE00ATM", "v": 20.47}, {"t": "2020-03-23T07:50:04Z", "ch": "2FE00ATM", "v": 20.47},
      {"t": "2020-03-23T07:50:11Z", "ch": "2FE00ATM", "v": 20.12}, {"t": "2020-03-23T07:50:18Z", "ch": "2FE00ATM", "v": 20.47},
      {"t": "2020-03-23T07:58:22Z", "ch": "2FE00ATM", "v": 20.47}, {"t": "2020-03-23T07:58:29Z", "ch": "2FE00ATM", "v": 20.83},
      {"t": "2020-03-23T07:58:36Z", "ch": "2FE00ATM", "v": 20.47}, {"t": "2020-03-23T08:06:40Z", "ch": "2FE00ATM", "v": 20.47}
    ]
  },
  "vconcat": [
    {
      "width": 1701, "height": 664,
      "encoding": {"x": {"field": "t", "type": "temporal", "scale": {"type": "utc", "domain": [1584941915000, 1584951218000]},
        "axis": {"values": [1584942300000, 1584943200000, 1584944100000, 1584945000000, 1584945900000, 1584946800000, 1584947700000, 1584948600000, 1584949500000, 1584950400000],
          "labels": false, "title": null, "domain": false, "grid": true, "gridColor": "#b0b0b0", "gridWidth": 1.5,
          "gridDash": {"condition": {"test": "utcminutes(datum.value) == 0", "value": []}, "value": [7, 4]},
          "tickColor": "black",
          "tickWidth": {"condition": {"test": "utcminutes(datum.value) == 0", "value": 3}, "value": 1.5},
          "tickSize": {"condition": {"test": "utcminutes(datum.value) == 0", "value": 27}, "value": -8}}}},
      "layer": [
        {"layer": [
          {"data": {"name": "grey"}, "mark": {"type": "rect", "color": "black", "opacity": 0.1}, "encoding": {"x2": {"field": "t2"}}},
          {"data": {"name": "pink"}, "mark": {"type": "rect", "color": "red", "opacity": 0.055}, "encoding": {"x2": {"field": "t2"}}},
          {"data": {"name": "bounds"}, "mark": {"type": "rule", "color": "black", "strokeWidth": 2.5}, "encoding": {}},
          {"data": {"name": "pitch"}, "mark": {"type": "line", "color": "black", "strokeWidth": 4},
            "encoding": {"y": {"field": "v", "type": "quantitative", "scale": {"domain": [45.2, 180], "nice": false, "zero": false},
              "axis": {"title": "Pitch Angle", "values": [60, 80, 100, 120, 140, 160, 180], "format": "d"}}}},
          {"data": {"name": "obs"}, "transform": [{"filter": "!datum.cur"}],
            "mark": {"type": "text", "angle": 270, "align": "left", "baseline": "middle", "fontSize": 27, "color": "black"},
            "encoding": {"y": {"datum": 184.2, "type": "quantitative"}, "text": {"field": "label"}}},
          {"data": {"name": "obs"}, "transform": [{"filter": "datum.cur"}],
            "mark": {"type": "text", "angle": 270, "align": "left", "baseline": "middle", "fontSize": 27, "fontWeight": "bold", "color": "black"},
            "encoding": {"y": {"datum": 184.2, "type": "quantitative"}, "text": {"field": "label"}}}
        ]},
        {"data": {"name": "roll"}, "mark": {"type": "line", "color": "#ff7f0e", "strokeWidth": 3.5},
          "encoding": {"y": {"field": "v", "type": "quantitative", "scale": {"domain": [-0.497, 2.152], "nice": false, "zero": false},
            "axis": {"orient": "right", "title": "Off Nominal Roll Angle", "titleAngle": 270, "titleBaseline": "top", "values": [0, 0.5, 1, 1.5, 2], "format": ".1f",
              "tickSize": 9, "tickColor": "#ff7f0e", "labelColor": "#ff7f0e", "titleColor": "#ff7f0e", "labelPadding": 12, "titlePadding": 15}}}}
      ],
      "resolve": {"scale": {"y": "independent"}, "axis": {"y": "independent"}}
    },
    {
      "width": 1701, "height": 664,
      "encoding": {"x": {"field": "t", "type": "temporal", "scale": {"type": "utc", "domain": [1584941915000, 1584951218000]},
        "axis": {"values": [1584942300000, 1584943200000, 1584944100000, 1584945000000, 1584945900000, 1584946800000, 1584947700000, 1584948600000, 1584949500000, 1584950400000],
          "labels": false, "title": null, "domain": false, "grid": true, "gridColor": "#b0b0b0", "gridWidth": 1.5,
          "gridDash": {"condition": {"test": "utcminutes(datum.value) == 0", "value": []}, "value": [7, 4]},
          "tickColor": "black",
          "tickWidth": {"condition": {"test": "utcminutes(datum.value) == 0", "value": 3}, "value": 1.5},
          "tickSize": {"condition": {"test": "utcminutes(datum.value) == 0", "value": 27}, "value": -8}}}},
      "layer": [
        {"data": {"name": "pink"}, "mark": {"type": "rect", "color": "red", "opacity": 0.055}, "encoding": {"x2": {"field": "t2"}}},
        {"data": {"name": "bounds"}, "mark": {"type": "rule", "color": "black", "strokeWidth": 2.5}, "encoding": {}},
        {"data": {"name": "temp"}, "mark": {"type": "line", "strokeWidth": 8},
          "encoding": {"y": {"field": "v", "type": "quantitative", "scale": {"domain": [18.17, 29.1], "nice": false, "zero": false},
              "axis": {"title": "Temperature", "values": [20, 22, 24, 26, 28], "format": "d"}},
            "color": {"field": "ch", "type": "nominal",
              "scale": {"domain": ["2CHTRPZT", "2CEAHVPT", "2DTSTATT", "2DCENTRT"], "range": ["#1f77b4", "#ff7f0e", "#2ca02c", "#d62728"]},
              "legend": {"title": null, "orient": "top-left", "columns": 2, "columnPadding": 55}}}},
        {"data": {"name": "model"}, "mark": {"type": "line", "color": "#404040", "strokeWidth": 6},
          "encoding": {"y": {"field": "v", "type": "quantitative", "scale": {"domain": [18.17, 29.1], "nice": false, "zero": false}}}},
        {"data": {"name": "fit"}, "mark": {"type": "rect", "fill": "white", "stroke": "black", "strokeWidth": 2.5},
          "encoding": {"x2": {"field": "t2"},
            "y": {"datum": 19.8, "type": "quantitative"}, "y2": {"datum": 17.89}}},
        {"data": {"name": "fit"}, "mark": {"type": "text", "align": "left", "baseline": "top", "fontSize": 26, "lineHeight": 32, "color": "black"},
          "encoding": {"x": {"field": "tx", "type": "temporal"},
            "y": {"datum": 19.62, "type": "quantitative"},
            "text": {"field": "note"}}}
      ]
    },
    {
      "width": 1701, "height": 664,
      "encoding": {"x": {"field": "t", "type": "temporal", "scale": {"type": "utc", "domain": [1584941915000, 1584951218000]},
        "axis": {"values": [1584942300000, 1584943200000, 1584944100000, 1584945000000, 1584945900000, 1584946800000, 1584947700000, 1584948600000, 1584949500000, 1584950400000],
          "labels": false, "title": null, "domain": false, "grid": true, "gridColor": "#b0b0b0", "gridWidth": 1.5,
          "gridDash": {"condition": {"test": "utcminutes(datum.value) == 0", "value": []}, "value": [7, 4]},
          "tickColor": "black",
          "tickWidth": {"condition": {"test": "utcminutes(datum.value) == 0", "value": 3}, "value": 1.5},
          "tickSize": {"condition": {"test": "utcminutes(datum.value) == 0", "value": 27}, "value": -8}}}},
      "layer": [
        {"data": {"name": "pink"}, "mark": {"type": "rect", "color": "red", "opacity": 0.055}, "encoding": {"x2": {"field": "t2"}}},
        {"data": {"name": "bounds"}, "mark": {"type": "rule", "color": "black", "strokeWidth": 2.5}, "encoding": {}},
        {"data": {"name": "rate"}, "transform": [{"fold": ["2TLEV1RT", "2VLEV1RT", "2SHEV1RT"], "as": ["ch", "v"]}],
          "mark": {"type": "line", "strokeWidth": 3.5},
          "encoding": {"y": {"field": "v", "type": "quantitative", "scale": {"type": "log", "domain": [10, 61600], "nice": false},
              "axis": {"title": "Rate", "orient": "left", "values": [10, 100, 1000, 10000],
                "labelExpr": "datum.value == 10 ? '10¹' : datum.value == 100 ? '10²' : datum.value == 1000 ? '10³' : '10⁴'"}},
            "color": {"field": "ch", "type": "nominal",
              "scale": {"domain": ["2TLEV1RT", "2VLEV1RT", "2SHEV1RT"], "range": ["#1f77b4", "#ff7f0e", "#2ca02c"]},
              "legend": {"title": null, "orient": "top-right", "symbolStrokeWidth": 3}}}},
        {"data": {"name": "rate"}, "transform": [{"fold": ["2TLEV1RT", "2VLEV1RT", "2SHEV1RT"], "as": ["ch", "v"]}],
          "mark": {"type": "line", "opacity": 0},
          "encoding": {"y": {"field": "v", "type": "quantitative", "scale": {"type": "log", "domain": [10, 61600], "nice": false},
              "axis": {"title": null, "orient": "left", "labels": false, "tickSize": -9, "tickWidth": 1.5,
                "values": [20, 30, 40, 50, 60, 70, 80, 90, 200, 300, 400, 500, 600, 700, 800, 900, 2000, 3000, 4000, 5000, 6000, 7000, 8000, 9000, 20000, 30000, 40000, 50000, 60000]}},
            "detail": {"field": "ch"}}}
      ],
      "resolve": {"axis": {"y": "independent"}}
    },
    {
      "width": 1701, "height": 664,
      "encoding": {"x": {"field": "t", "type": "temporal", "scale": {"type": "utc", "domain": [1584941915000, 1584951218000]},
        "axis": {"values": [1584942300000, 1584943200000, 1584944100000, 1584945000000, 1584945900000, 1584946800000, 1584947700000, 1584948600000, 1584949500000, 1584950400000],
          "labels": false, "title": null, "domain": false, "grid": true, "gridColor": "#b0b0b0", "gridWidth": 1.5,
          "gridDash": {"condition": {"test": "utcminutes(datum.value) == 0", "value": []}, "value": [7, 4]},
          "tickColor": "black",
          "tickWidth": {"condition": {"test": "utcminutes(datum.value) == 0", "value": 3}, "value": 1.5},
          "tickSize": {"condition": {"test": "utcminutes(datum.value) == 0", "value": 27}, "value": -8}}}},
      "layer": [
        {"data": {"name": "pink"}, "mark": {"type": "rect", "color": "red", "opacity": 0.055}, "encoding": {"x2": {"field": "t2"}}},
        {"data": {"name": "bounds"}, "mark": {"type": "rule", "color": "black", "strokeWidth": 2.5}, "encoding": {}},
        {"data": {"name": "volt"}, "mark": {"type": "line", "strokeWidth": 5},
          "encoding": {"y": {"field": "v", "type": "quantitative", "scale": {"domain": [-20, 20], "nice": false, "zero": false},
              "axis": {"title": "Volt", "values": [-20, -15, -10, -5, 0, 5, 10, 15, 20], "format": "d"}},
            "color": {"field": "ch", "type": "nominal",
              "scale": {"domain": ["2P15VAVL", "2N15VAVL", "2P05VAVL"], "range": ["#1f77b4", "#ff7f0e", "#2ca02c"]},
              "legend": {"title": null, "orient": "none", "legendX": 1444, "legendY": 267}}}}
      ]
    },
    {
      "width": 1701, "height": 664,
      "encoding": {"x": {"field": "t", "type": "temporal", "scale": {"type": "utc", "domain": [1584941915000, 1584951218000]},
        "axis": {"values": [1584942300000, 1584943200000, 1584944100000, 1584945000000, 1584945900000, 1584946800000, 1584947700000, 1584948600000, 1584949500000, 1584950400000],
          "labels": false, "title": null, "domain": false, "grid": true, "gridColor": "#b0b0b0", "gridWidth": 1.5,
          "gridDash": {"condition": {"test": "utcminutes(datum.value) == 0", "value": []}, "value": [7, 4]},
          "tickColor": "black",
          "tickWidth": {"condition": {"test": "utcminutes(datum.value) == 0", "value": 3}, "value": 1.5},
          "tickSize": {"condition": {"test": "utcminutes(datum.value) == 0", "value": 27}, "value": -8}}}},
      "layer": [
        {"data": {"name": "pink"}, "mark": {"type": "rect", "color": "red", "opacity": 0.055}, "encoding": {"x2": {"field": "t2"}}},
        {"data": {"name": "bounds"}, "mark": {"type": "rule", "color": "black", "strokeWidth": 2.5}, "encoding": {}},
        {"data": {"name": "hv"}, "mark": {"type": "line", "strokeWidth": 10},
          "encoding": {"y": {"field": "v", "type": "quantitative", "scale": {"domain": [0, 266.7], "nice": false, "zero": false},
              "axis": {"title": "HV Monitor", "values": [0, 50, 100, 150, 200, 250], "format": "d"}},
            "color": {"field": "ch", "type": "nominal",
              "scale": {"domain": ["2SPHBLV", "2SPHVLV", "2IMHVLV", "2IMHBLV"], "range": ["#1f77b4", "#ff7f0e", "#2ca02c", "#d62728"]},
              "legend": {"title": null, "orient": "top-right", "rowPadding": 14, "symbolType": "circle", "symbolSize": 25, "symbolStrokeWidth": 5, "symbolOffset": 25, "labelOffset": 20}}}}
      ]
    },
    {
      "width": 1701, "height": 664,
      "encoding": {"x": {"field": "t", "type": "temporal", "scale": {"type": "utc", "domain": [1584941915000, 1584951218000]},
        "axis": {"values": [1584942300000, 1584943200000, 1584944100000, 1584945000000, 1584945900000, 1584946800000, 1584947700000, 1584948600000, 1584949500000, 1584950400000],
          "labels": false, "title": null, "domain": false, "grid": true, "gridColor": "#b0b0b0", "gridWidth": 1.5,
          "gridDash": {"condition": {"test": "utcminutes(datum.value) == 0", "value": []}, "value": [7, 4]},
          "tickColor": "black",
          "tickWidth": {"condition": {"test": "utcminutes(datum.value) == 0", "value": 3}, "value": 1.5},
          "tickSize": {"condition": {"test": "utcminutes(datum.value) == 0", "value": 27}, "value": -8}}}},
      "layer": [
        {"data": {"name": "pink"}, "mark": {"type": "rect", "color": "red", "opacity": 0.055}, "encoding": {"x2": {"field": "t2"}}},
        {"data": {"name": "bounds"}, "mark": {"type": "rule", "color": "black", "strokeWidth": 2.5}, "encoding": {}},
        {"data": {"name": "det"}, "mark": {"type": "line", "strokeWidth": 8},
          "encoding": {"y": {"field": "v", "type": "quantitative", "scale": {"domain": [18.8, 34.62], "nice": false, "zero": false},
              "axis": {"title": "Detector Temp", "values": [20, 22, 24, 26, 28, 30, 32, 34], "format": "d"}},
            "color": {"field": "ch", "type": "nominal",
              "scale": {"domain": ["2SPINATM", "2SPHVATM", "2IMINATM", "2IMHVATM"], "range": ["#1f77b4", "#ff7f0e", "#2ca02c", "#d62728"]},
              "legend": {"title": null, "orient": "none", "legendX": 1440, "legendY": 244}}}}
      ]
    },
    {
      "width": 1701, "height": 664,
      "encoding": {"x": {"field": "t", "type": "temporal", "scale": {"type": "utc", "domain": [1584941915000, 1584951218000]},
        "axis": {"values": [1584942300000, 1584943200000, 1584944100000, 1584945000000, 1584945900000, 1584946800000, 1584947700000, 1584948600000, 1584949500000, 1584950400000],
          "domain": false, "grid": true, "gridColor": "#b0b0b0", "gridWidth": 1.5,
          "gridDash": {"condition": {"test": "utcminutes(datum.value) == 0", "value": []}, "value": [7, 4]},
          "tickColor": "black",
          "tickWidth": {"condition": {"test": "utcminutes(datum.value) == 0", "value": 3}, "value": 1.5},
          "tickSize": {"condition": {"test": "utcminutes(datum.value) == 0", "value": 27}, "value": -8},
          "labelExpr": "utcminutes(datum.value) == 0 ? utcFormat(datum.value, '%Hh') : utcFormat(datum.value, '%M')",
          "labelFontSize": {"condition": {"test": "utcminutes(datum.value) == 0", "value": 27}, "value": 17},
          "labelPadding": {"condition": {"test": "utcminutes(datum.value) == 0", "value": 12}, "value": 16},
          "labelOverlap": false, "labelFlush": false, "labelColor": "black",
          "title": "2020-03-23 (083)", "titleFontSize": 33, "titleFontWeight": "normal", "titlePadding": 2, "titleColor": "black"}}},
      "layer": [
        {"data": {"name": "pink"}, "mark": {"type": "rect", "color": "red", "opacity": 0.055}, "encoding": {"x2": {"field": "t2"}}},
        {"data": {"name": "bounds"}, "mark": {"type": "rule", "color": "black", "strokeWidth": 2.5}, "encoding": {}},
        {"data": {"name": "fea"}, "mark": {"type": "line", "strokeWidth": 8},
          "encoding": {"y": {"field": "v", "type": "quantitative", "scale": {"domain": [13.72, 24.62], "nice": false, "zero": false},
              "axis": {"title": "FEA Temp", "values": [14, 16, 18, 20, 22, 24], "format": "d"}},
            "color": {"field": "ch", "type": "nominal",
              "scale": {"domain": ["2FHTRMZT", "2FRADPYT", "2FEPRATM", "2FE00ATM"], "range": ["#1f77b4", "#ff7f0e", "#2ca02c", "#d62728"]},
              "legend": {"title": null, "orient": "none", "legendX": 14, "legendY": 243}}}}
      ]
    }
  ]
}
